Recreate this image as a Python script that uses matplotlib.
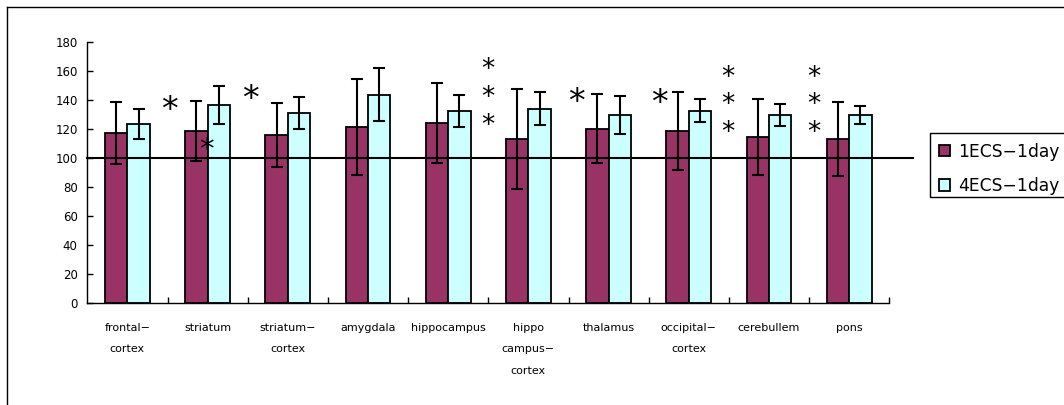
import numpy as np
import matplotlib
matplotlib.use("Agg")
import matplotlib.pyplot as plt
from matplotlib.lines import Line2D
from matplotlib.patches import Rectangle

# regions (x axis) and the two groups
regions = ["frontal\u2212\ncortex", "striatum", "striatum\u2212\ncortex", "amygdala",
           "hippocampus", "hippo\ncampus\u2212\ncortex", "thalamus",
           "occipital\u2212\ncortex", "cerebullem", "pons"]
series_names = ["1ECS\u22121day", "4ECS\u22121day"]

ecs1 = [117.0, 118.5, 116.0, 121.5, 124.0, 113.0, 120.2, 118.5, 114.6, 113.0]
ecs1_err = [21.4, 20.8, 22.1, 33.1, 27.6, 34.5, 24.0, 27.1, 26.2, 25.5]
ecs4 = [123.6, 136.5, 131.0, 143.6, 132.6, 134.0, 129.6, 132.6, 129.6, 129.6]
ecs4_err = [10.3, 13.2, 11.0, 18.0, 11.0, 11.6, 13.2, 7.8, 7.4, 6.2]

# significance marks (x in category units, y in data units)
sig_x = [0.525, 0.99, 1.537, 4.5, 4.5, 4.5, 5.6, 6.63, 7.49, 7.49, 7.49, 8.56, 8.56, 8.56]
sig_y = [135.0, 107.5, 142.6, 162.5, 143.0, 124.0, 140.8, 139.6, 157.2, 138.4, 118.9, 157.2, 138.4, 118.9]
sig_size = [24, 21, 24, 19, 19, 19, 24, 24, 19, 19, 19, 19, 19, 19]

fig = plt.figure(figsize=(10.64, 4.05), dpi=100)
ax = fig.add_axes([87.3/1064, 1-303.3/405, 802/1064, 261.6/405])

x = np.arange(len(regions))
w = 0.28
b1 = ax.bar(x - w/2, ecs1, w, color="#993366", edgecolor="black", linewidth=1.3, zorder=2)
b2 = ax.bar(x + w/2, ecs4, w, color="#CCFFFF", edgecolor="black", linewidth=1.3, zorder=2)
ax.errorbar(x - w/2, ecs1, yerr=ecs1_err, fmt="none", ecolor="black",
            elinewidth=1.5, capsize=4.5, capthick=1.5, zorder=3)
ax.errorbar(x + w/2, ecs4, yerr=ecs4_err, fmt="none", ecolor="black",
            elinewidth=1.5, capsize=4, capthick=1.5, zorder=3)

# reference line at 100, runs a bit past the axis
ax.axhline(100, xmin=0, xmax=825.4/802, color="black", lw=1.5, clip_on=False, zorder=4)

for sx, sy, ss in zip(sig_x, sig_y, sig_size):
    ax.text(sx, sy, "*", fontsize=ss, ha="center", va="center_baseline", zorder=5)

ax.set_xlim(-0.5, len(regions) - 0.5)
ax.set_ylim(0, 180)
ax.set_yticks(range(0, 181, 20))
ax.set_xticks(x)
ax.set_xticklabels(regions, fontsize=8, linespacing=2.45)
ax.set_xticks(np.arange(0.5, len(regions), 1), minor=True)
ax.tick_params(axis="x", which="major", length=0, pad=14)
ax.tick_params(axis="x", which="minor", direction="in", length=4, width=1)
ax.tick_params(axis="y", direction="in", length=4, width=1, labelsize=8.5, pad=7)
for s in ["top", "right"]:
    ax.spines[s].set_visible(False)
for s in ["left", "bottom"]:
    ax.spines[s].set_linewidth(1)

# legend: box runs off the right edge like in the original chart
leg = ax.legend([b1, b2], series_names, loc="upper left",
                bbox_to_anchor=(929.5/1064, 1-133.3/405), bbox_transform=fig.transFigure,
                borderaxespad=0, fontsize=12.3, frameon=False,
                handlelength=0.65, handleheight=0.65, handletextpad=0.45,
                labelspacing=0.95, borderpad=0.55)
fig.add_artist(Rectangle((929.5/1064, 1-197.3/405), 0.2, 64/405, transform=fig.transFigure,
                         fill=False, edgecolor="black", lw=1))

# outer chart frame (only left/top visible)
fig.add_artist(Line2D([7/1064, 7/1064], [0, 1-7/405], transform=fig.transFigure, color="black", lw=1))
fig.add_artist(Line2D([7/1064, 1], [1-7/405, 1-7/405], transform=fig.transFigure, color="black", lw=1))

fig.savefig("out.png", dpi=100)
